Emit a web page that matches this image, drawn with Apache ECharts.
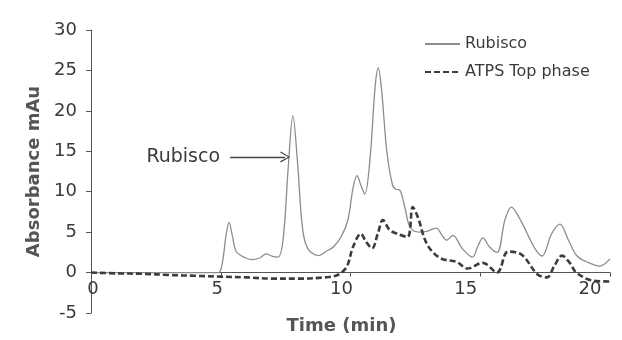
<!DOCTYPE html>
<html>
<head>
<meta charset="utf-8">
<script src="https://cdn.jsdelivr.net/npm/echarts@6/dist/echarts.min.js"></script>
<style>
  html, body { margin: 0; padding: 0; background: #ffffff; }
  #chart { width: 622px; height: 340px; }
</style>
</head>
<body>
<div id="chart"></div>
<script>
// Chromatogram traces: elution time (min) and absorbance (mAu)
const rubiscoTime = [0, 4.9, 5.05, 5.2, 5.32, 5.45, 5.6, 5.9, 6.2, 6.5, 6.75, 7.0, 7.2, 7.4, 7.6, 7.78, 7.95, 8.15, 8.35, 8.75, 9.1, 9.35, 9.65, 9.9, 10.1, 10.25, 10.4, 10.55, 10.75, 10.95, 11.07, 11.2, 11.4, 11.62, 11.75, 11.9, 12.1, 12.3, 12.65, 12.95, 13.3, 13.55, 13.7, 13.95, 14.3, 14.7, 14.9, 15.1, 15.35, 15.65, 15.95, 16.2, 16.5, 16.8, 17.1, 17.38, 17.75, 18.07, 18.4, 18.73, 19.2, 19.6, 20];
const rubiscoAbs  = [0, 0, 1.0, 4.5, 6.2, 4.5, 2.6, 1.9, 1.6, 1.8, 2.3, 2.0, 1.9, 4.0, 13, 19.4, 14, 5.5, 3.0, 2.1, 2.7, 3.2, 4.5, 6.5, 10.5, 12, 10.8, 9.7, 14, 23, 25.3, 22.5, 15, 10.8, 10.3, 10.2, 8.0, 5.6, 5.0, 5.1, 5.5, 4.5, 4.0, 4.6, 3.0, 1.9, 3.2, 4.3, 3.2, 2.5, 6.5, 8.1, 6.8, 4.9, 3.0, 2.05, 4.8, 6.0, 4.0, 2.05, 1.2, 0.8, 1.7];

const atpsTime = [0, 1, 2, 3, 4, 5, 6, 7, 8, 9, 9.5, 9.85, 10.1, 10.4, 10.6, 10.83, 11.05, 11.25, 11.5, 11.8, 12.2, 12.4, 12.6, 12.95, 13.45, 14.1, 14.5, 15.1, 15.65, 16.07, 16.6, 17.2, 17.57, 17.85, 18.15, 18.45, 18.7, 19.35, 20];
const atpsAbs  = [0, -0.1, -0.15, -0.3, -0.4, -0.5, -0.6, -0.75, -0.75, -0.6, -0.3, 0.7, 3.2, 4.8, 3.8, 3.0, 4.8, 6.5, 5.3, 4.8, 4.4, 8.1, 6.8, 3.5, 1.8, 1.3, 0.5, 1.2, 0, 2.6, 2.2, -0.2, -0.6, 0.8, 2.1, 1.2, 0, -1.0, -1.1];

const seriesNames = ['Rubisco', 'ATPS Top phase'];
const xTicks = { min: 0, max: 20, step: 5 };
const yTicks = { min: -5, max: 30, step: 5 };

// Arrow pointing at the Rubisco peak: [time, absorbance] of its tail and head
const arrowTail = [5.36, 14.3];
const arrowHead = [7.48, 14.3];
const arrowText = 'Rubisco';

const pairs = (xs, ys) => xs.map((x, i) => [x, ys[i]]);

const axisColor = '#555555';
const textColor = '#3a3a3a';
const font = 'DejaVu Sans';

const chart = echarts.init(document.getElementById('chart'), null, { renderer: 'canvas' });

chart.setOption({
  animation: false,
  backgroundColor: '#ffffff',
  textStyle: { fontFamily: font },
  grid: [
    { left: 91, right: 12, top: 30, bottom: 27 },
    // tick-label band for the time axis
    { left: 93, right: 32, top: 30, bottom: 67 }
  ],
  legend: {
    data: seriesNames,
    orient: 'vertical',
    left: 424,
    top: 36,
    padding: 0,
    itemWidth: 35,
    itemHeight: 2,
    itemGap: 12,
    itemStyle: { opacity: 0 },
    textStyle: { fontSize: 16, color: textColor, fontFamily: font }
  },
  xAxis: [
    {
      type: 'value',
      gridIndex: 0,
      min: xTicks.min, max: xTicks.max, interval: xTicks.step,
      axisLine: { onZero: true, lineStyle: { color: axisColor, width: 1 } },
      axisTick: { show: true, length: 4, lineStyle: { color: axisColor } },
      axisLabel: { show: false },
      splitLine: { show: false }
    },
    {
      type: 'value',
      gridIndex: 1,
      min: xTicks.min, max: xTicks.max, interval: xTicks.step,
      name: 'Time (min)',
      nameLocation: 'middle',
      nameGap: 47,
      nameTextStyle: { fontSize: 18, fontWeight: 'bold', color: axisColor, fontFamily: font },
      axisLine: { show: false },
      axisTick: { show: false },
      axisLabel: { fontSize: 18, color: textColor, margin: 10, fontFamily: font },
      splitLine: { show: false }
    }
  ],
  yAxis: [
    {
      type: 'value',
      gridIndex: 0,
      min: yTicks.min, max: yTicks.max, interval: yTicks.step,
      name: 'Absorbance mAu',
      nameLocation: 'middle',
      nameGap: 46,
      nameTextStyle: { fontSize: 18, fontWeight: 'bold', color: axisColor, fontFamily: font },
      axisLine: { show: true, onZero: false, lineStyle: { color: axisColor, width: 1 } },
      axisTick: { show: true, length: 5, lineStyle: { color: axisColor } },
      axisLabel: { fontSize: 18, color: textColor, margin: 14, fontFamily: font },
      splitLine: { show: false }
    },
    {
      type: 'value',
      gridIndex: 1,
      min: yTicks.min, max: yTicks.max,
      show: false
    }
  ],
  series: [
    {
      name: seriesNames[0],
      type: 'line',
      xAxisIndex: 0, yAxisIndex: 0,
      data: pairs(rubiscoTime, rubiscoAbs),
      smooth: 0.35,
      symbol: 'none',
      lineStyle: { color: '#8c8c8c', width: 1.3 },
      itemStyle: { color: '#8c8c8c' },
      z: 3,
      markLine: {
        silent: true,
        symbol: ['none', 'path://M10,0 L20,18 L18,19.5 L10,4 L2,19.5 L0,18 Z'],
        symbolSize: [11, 10],
        lineStyle: { color: '#444444', width: 1.3, type: 'solid' },
        label: {
          show: true,
          position: 'start',
          formatter: arrowText,
          fontSize: 19,
          color: textColor,
          distance: 10,
          fontFamily: font
        },
        data: [[{ coord: arrowTail }, { coord: arrowHead }]]
      }
    },
    {
      name: seriesNames[1],
      type: 'line',
      xAxisIndex: 0, yAxisIndex: 0,
      data: pairs(atpsTime, atpsAbs),
      smooth: 0.35,
      symbol: 'none',
      lineStyle: { color: '#3c3c3c', width: 2.6, type: [6, 3] },
      itemStyle: { color: '#3c3c3c' },
      z: 4
    }
  ]
});
</script>
</body>
</html>
